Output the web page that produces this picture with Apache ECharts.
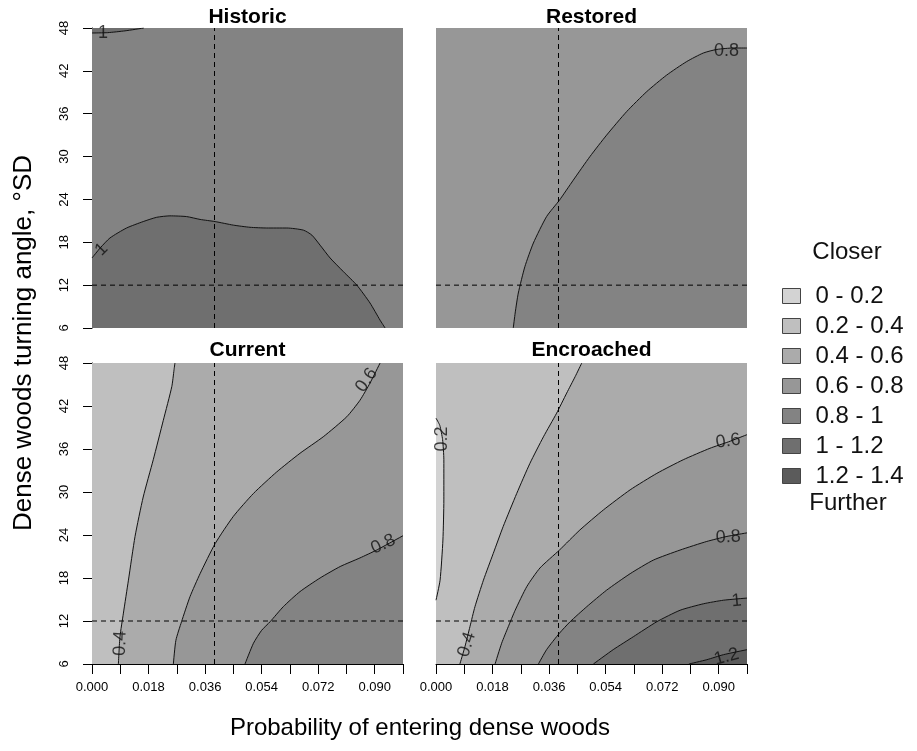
<!DOCTYPE html>
<html>
<head>
<meta charset="utf-8">
<script src="https://cdn.jsdelivr.net/npm/echarts@6/dist/echarts.min.js"></script>
<style>html,body{margin:0;padding:0;background:#fff;}#c{width:917px;height:751px;}</style>
</head>
<body>
<div id="c"></div>
<script>
// ---------- data ----------
const panels = ['Historic', 'Restored', 'Current', 'Encroached'];
const levelLabels = ['0 - 0.2', '0.2 - 0.4', '0.4 - 0.6', '0.6 - 0.8', '0.8 - 1', '1 - 1.2', '1.2 - 1.4'];
const levelColors = ['#d3d3d3', '#bfbfbf', '#ababab', '#979797', '#838383', '#6f6f6f', '#5b5b5b'];
const xRange = [0, 0.099];      // probability of entering dense woods
const yRange = [6, 48];         // turning angle SD
const refX = 0.039;             // vertical reference line
const refY = 12;                // horizontal reference line

// Historic
const historicLine1Low = [[0,15.8],[0.0026,17.2],[0.0057,18.6],[0.011,20.0],[0.0163,20.9],[0.0206,21.5],[0.0248,21.7],[0.0301,21.6],[0.0344,21.2],[0.0392,20.9],[0.045,20.4],[0.0503,20.1],[0.0556,20.0],[0.062,20.0],[0.0673,19.7],[0.070,19.0],[0.0726,17.6],[0.0758,15.8],[0.080,13.9],[0.0843,12.0],[0.0885,9.5],[0.0917,7.1],[0.0933,6]];
const historicLine1Top = [[0,47.3],[0.005,47.35],[0.0105,47.6],[0.0165,48]];
const historicLabels = [[0.003,17.0,'1',45],[0.0035,47.35,'1',0]];

// Restored
const restoredLine08 = [[0.0246,6],[0.0252,8.1],[0.0262,10.9],[0.0283,14.6],[0.031,17.9],[0.0352,21.6],[0.0393,23.9],[0.0437,26.7],[0.049,30.0],[0.0543,33.0],[0.0607,36.3],[0.0671,39.1],[0.0734,41.4],[0.0798,43.3],[0.0851,44.5],[0.0894,45.0],[0.0947,45.2],[0.099,45.2]];
const restoredLabels = [[0.0925,44.8,'0.8',0]];

// Current
const currentLine04 = [[0.0084,6],[0.0089,9.8],[0.010,13.1],[0.0116,17.7],[0.0137,23.8],[0.0163,29.3],[0.0195,34.5],[0.0227,40.0],[0.0254,44.7],[0.0261,47.0],[0.0264,48]];
const currentLine06 = [[0.0259,6],[0.0267,9.3],[0.0285,11.9],[0.0312,15.4],[0.0344,18.6],[0.0392,22.8],[0.045,26.6],[0.0514,29.8],[0.0588,32.8],[0.0662,35.4],[0.0736,37.7],[0.0811,40.5],[0.0853,42.8],[0.0885,45.2],[0.0917,48]];
const currentLine08 = [[0.0487,6],[0.0514,8.9],[0.054,10.7],[0.0567,11.9],[0.0609,14.0],[0.0662,16.1],[0.0726,18.0],[0.079,19.6],[0.0853,20.8],[0.0906,21.9],[0.099,23.9]];
const currentLabels = [[0.009,8.9,'0.4',88],[0.0874,45.6,'0.6',55],[0.0927,22.7,'0.8',25]];

// Encroached
const encroachedLine02 = [[0,14.9],[0.0013,17.7],[0.0022,23.3],[0.0025,28.9],[0.0025,34.5],[0.0021,37.3],[0.0012,39.3],[0,40.3]];
const encroachedLine04 = [[0.0076,6],[0.0092,8.4],[0.0108,11.2],[0.0124,14.0],[0.0151,17.7],[0.0182,21.4],[0.0214,25.2],[0.0257,29.8],[0.0299,34.0],[0.0342,37.7],[0.0384,41.0],[0.0416,43.8],[0.0443,46.1],[0.0464,48]];
const encroachedLine06 = [[0.0188,6],[0.0209,8.9],[0.023,11.2],[0.0252,13.5],[0.0289,16.8],[0.0331,19.4],[0.0393,21.9],[0.0458,24.7],[0.0533,27.5],[0.0618,30.3],[0.0703,32.6],[0.0787,34.5],[0.0872,36.1],[0.0931,37.0],[0.099,38.0]];
const encroachedLine08 = [[0.0326,6],[0.0352,8.0],[0.0393,10.3],[0.0427,11.9],[0.048,14.0],[0.0543,16.3],[0.0618,18.6],[0.0692,20.5],[0.0777,21.9],[0.0862,23.1],[0.0926,23.8],[0.099,24.3]];
const encroachedLine10 = [[0.0501,6],[0.0564,8.0],[0.0628,9.8],[0.0703,11.9],[0.0777,13.5],[0.0851,14.4],[0.0915,14.9],[0.099,15.2]];
const encroachedLine12 = [[0.0805,6],[0.0862,6.6],[0.0915,7.3],[0.099,8.0]];
const encroachedLabels = [[0.0019,37.4,'0.2',90],[0.0098,8.7,'0.4',72],[0.093,37.1,'0.6',8],[0.093,23.7,'0.8',3],[0.0957,14.8,'1',5],[0.0925,7.0,'1.2',15]];

// ---------- chart ----------
const FONT = 'Liberation Sans, Arial, sans-serif';
const gridBoxes = [
  {left: 92, top: 28, width: 311, height: 300},
  {left: 436, top: 28, width: 311, height: 300},
  {left: 92, top: 363, width: 311, height: 301},
  {left: 436, top: 363, width: 311, height: 301}
];
const X0 = xRange[0], X1 = xRange[1], Y0 = yRange[0], Y1 = yRange[1];
const fullRect = [[X0,Y0],[X1,Y0],[X1,Y1],[X0,Y1]];

// region polygons: [panelIndex, levelIndex, polygon]
const regions = [
  [0, 4, fullRect],
  [0, 5, historicLine1Low.concat([[X0,Y0]])],
  [0, 5, historicLine1Top.concat([[X0,Y1]])],
  [1, 3, fullRect],
  [1, 4, restoredLine08.concat([[X1,Y0]])],
  [2, 1, fullRect],
  [2, 2, currentLine04.concat([[X1,Y1],[X1,Y0]])],
  [2, 3, currentLine06.concat([[X1,Y1],[X1,Y0]])],
  [2, 4, currentLine08.concat([[X1,Y0]])],
  [3, 1, fullRect],
  [3, 0, encroachedLine02],
  [3, 2, encroachedLine04.concat([[X1,Y1],[X1,Y0]])],
  [3, 3, encroachedLine06.concat([[X1,Y0]])],
  [3, 4, encroachedLine08.concat([[X1,Y0]])],
  [3, 5, encroachedLine10.concat([[X1,Y0]])],
  [3, 6, encroachedLine12.concat([[X1,Y0]])]
];
const contourLines = [
  [0, historicLine1Low], [0, historicLine1Top],
  [1, restoredLine08],
  [2, currentLine04], [2, currentLine06], [2, currentLine08],
  [3, encroachedLine02], [3, encroachedLine04], [3, encroachedLine06], [3, encroachedLine08], [3, encroachedLine10], [3, encroachedLine12]
];
const labelSets = [historicLabels, restoredLabels, currentLabels, encroachedLabels];

const series = [];
regions.forEach(function (r) {
  const poly = r[2], color = levelColors[r[1]];
  series.push({
    type: 'custom', name: levelLabels[r[1]],
    xAxisIndex: r[0], yAxisIndex: r[0], z: 1, silent: true,
    itemStyle: {color: color},
    data: poly,
    renderItem: function (params, api) {
      if (params.dataIndex !== 0) return null;
      const pts = poly.map(function (p) { return api.coord(p); });
      return {type: 'polygon', shape: {points: pts}, style: {fill: color, stroke: null}};
    }
  });
});
contourLines.forEach(function (c) {
  series.push({
    type: 'line', name: 'contour', xAxisIndex: c[0], yAxisIndex: c[0], z: 3, silent: true,
    data: c[1], showSymbol: false, symbol: 'none', smooth: 0.2,
    lineStyle: {color: '#111', width: 1}
  });
});
for (let i = 0; i < 4; i++) {
  series.push({
    type: 'line', name: 'ref', xAxisIndex: i, yAxisIndex: i, z: 4, silent: true,
    data: [[refX, Y0], [refX, Y1]], symbol: 'none',
    lineStyle: {color: '#000', width: 1, type: [5, 4]}
  });
  series.push({
    type: 'line', name: 'ref', xAxisIndex: i, yAxisIndex: i, z: 4, silent: true,
    data: [[X0, refY], [X1, refY]], symbol: 'none',
    lineStyle: {color: '#000', width: 1, type: [5, 4]}
  });
  series.push({
    type: 'scatter', name: 'labels', xAxisIndex: i, yAxisIndex: i, z: 5, silent: true,
    symbolSize: 1, itemStyle: {color: 'rgba(0,0,0,0)'},
    data: labelSets[i].map(function (l) {
      return {value: [l[0], l[1]], label: {show: true, position: 'inside', formatter: l[2], rotate: l[3]}};
    }),
    label: {show: true, color: '#111', fontSize: 18, fontFamily: FONT}
  });
}

const xAxes = [], yAxes = [];
for (let i = 0; i < 4; i++) {
  const bottom = i >= 2, leftSide = (i % 2 === 0);
  xAxes.push({
    type: 'value', gridIndex: i, min: X0, max: X1, interval: 0.009,
    splitLine: {show: false},
    axisLine: {show: bottom, onZero: false, lineStyle: {color: '#000', width: 1}},
    axisTick: {show: bottom, length: 10, lineStyle: {color: '#000'}},
    axisLabel: {
      show: bottom, margin: 17, color: '#000', fontSize: 13, fontFamily: FONT,
      showMaxLabel: true, showMinLabel: true,
      formatter: function (v) {
        const k = Math.round(v / 0.009);
        return (k % 2 === 0 && k <= 10) ? (k * 0.009).toFixed(3) : '';
      }
    }
  });
  yAxes.push({
    type: 'value', gridIndex: i, min: Y0, max: Y1, interval: 6,
    splitLine: {show: false},
    axisLine: {show: leftSide, onZero: false, lineStyle: {color: '#000', width: 1}},
    axisTick: {show: leftSide, length: 9, lineStyle: {color: '#000'}},
    axisLabel: {show: leftSide, rotate: 90, margin: 21, color: '#000', fontSize: 13, fontFamily: FONT}
  });
}

const titleCenters = [[247.5, 17], [591.5, 17], [247.5, 350], [591.5, 350]];
const graphics = panels.map(function (p, i) {
  return {type: 'text', x: titleCenters[i][0], y: titleCenters[i][1],
    style: {text: p, fill: '#000', font: 'bold 21px ' + FONT, textAlign: 'center', textVerticalAlign: 'middle'}};
});
graphics.push({type: 'text', x: 420, y: 728,
  style: {text: 'Probability of entering dense woods', fill: '#000', font: '24px ' + FONT, textAlign: 'center', textVerticalAlign: 'middle'}});
graphics.push({type: 'text', x: 24, y: 343, rotation: Math.PI / 2,
  style: {text: 'Dense woods turning angle, \u00b0SD', fill: '#000', font: '26px ' + FONT, textAlign: 'center', textVerticalAlign: 'middle'}});
graphics.push({type: 'text', x: 847, y: 252,
  style: {text: 'Closer', fill: '#111', font: '24px ' + FONT, textAlign: 'center', textVerticalAlign: 'middle'}});
graphics.push({type: 'text', x: 848, y: 503,
  style: {text: 'Further', fill: '#111', font: '24px ' + FONT, textAlign: 'center', textVerticalAlign: 'middle'}});

const chart = echarts.init(document.getElementById('c'), null, {renderer: 'canvas'});
chart.setOption({
  animation: false,
  backgroundColor: '#fff',
  grid: gridBoxes.map(function (g) { return Object.assign({containLabel: false}, g); }),
  xAxis: xAxes,
  yAxis: yAxes,
  legend: {
    orient: 'vertical', left: 777, top: 279, icon: 'rect', selectedMode: false,
    itemWidth: 18, itemHeight: 15, itemGap: 6,
    itemStyle: {borderColor: '#444', borderWidth: 1},
    textStyle: {fontSize: 24, color: '#111', fontFamily: FONT, padding: [0, 0, 0, 10]},
    data: levelLabels
  },
  graphic: graphics,
  series: series
});
</script>
</body>
</html>
